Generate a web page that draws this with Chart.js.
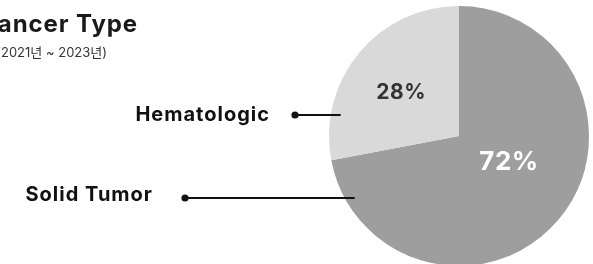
<!DOCTYPE html>
<html><head><meta charset="utf-8">
<script src="https://cdn.jsdelivr.net/npm/chart.js@4"></script>
<style>html,body{margin:0;padding:0;background:#fff;overflow:hidden;width:593px;height:264px}#wrap{position:relative;width:593px;height:272px}</style>
</head><body>
<div id="wrap"><canvas id="c" width="593" height="272"></canvas></div>
<script>
const categories = ["Solid Tumor", "Hematologic"];
const values = [72, 28];
const pctLabels = ["72%", "28%"];
const titleText = "Cancer Type";
const subtitleText = "(2021년 ~ 2023년)";
const colors = ["#9e9e9e", "#d9d9d9"];

const FONT = "Inter, 'Noto Sans', 'Noto Sans CJK KR', sans-serif";

const overlay = {
  id: 'overlay',
  afterDraw(chart) {
    const ctx = chart.ctx;
    const meta = chart.getDatasetMeta(0);
    ctx.save();
    // title
    ctx.fillStyle = '#1a1a1a';
    ctx.textAlign = 'right';
    ctx.textBaseline = 'alphabetic';
    ctx.letterSpacing = '0.9px';
    ctx.font = "bold 24px " + FONT;
    ctx.fillText(titleText, 138, 32);
    ctx.fillStyle = '#333';
    ctx.letterSpacing = '0px';
    ctx.font = "13px " + FONT;
    ctx.fillText(subtitleText, 107, 57);

    // percentage labels (positioned relative to the arc geometry)
    const cx0 = meta.data[0].x, cy0 = meta.data[0].y, R0 = meta.data[0].outerRadius;
    const offs = [[0.385, 0.20], [-0.445, -0.33]];
    meta.data.forEach((arc, i) => {
      const x = cx0 + offs[i][0] * R0;
      const y = cy0 + offs[i][1] * R0;
      ctx.textAlign = 'center';
      ctx.textBaseline = 'middle';
      ctx.letterSpacing = '0.5px';
      ctx.font = (i === 0 ? "bold 26px " : "bold 21px ") + FONT;
      ctx.fillStyle = i === 0 ? '#ffffff' : '#333333';
      ctx.fillText(pctLabels[i], x, y);
    });

    // category labels with leader lines
    const cx = cx0, cy = cy0, R = R0;
    const leaders = [
      {label: categories[1], ly: 115, base: 120.5, dot: 295, tx: 270},
      {label: categories[0], ly: 198, base: 200.5, dot: 185, tx: 153}
    ];
    leaders.forEach(l => {
      const dy = l.ly - cy;
      const edgeX = cx - Math.sqrt(R*R - dy*dy);
      const endX = edgeX + 10;
      ctx.strokeStyle = '#111';
      ctx.lineWidth = 2;
      ctx.beginPath();
      ctx.moveTo(l.dot, l.ly);
      ctx.lineTo(endX, l.ly);
      ctx.stroke();
      ctx.fillStyle = '#111';
      ctx.beginPath();
      ctx.arc(l.dot, l.ly, 3.6, 0, Math.PI*2);
      ctx.fill();
      ctx.textAlign = 'right';
      ctx.textBaseline = 'alphabetic';
      ctx.letterSpacing = '1px';
      ctx.font = "bold 20px " + FONT;
      ctx.fillText(l.label, l.tx, l.base);
    });
    ctx.restore();
  }
};

new Chart(document.getElementById('c'), {
  type: 'pie',
  data: {
    labels: categories,
    datasets: [{ data: values, backgroundColor: colors, borderWidth: 0 }]
  },
  options: {
    responsive: false,
    animation: false,
    layout: { padding: { top: 6, bottom: 6, left: 329, right: 4 } },
    plugins: { legend: { display: false }, tooltip: { enabled: false }, title: { display: false } }
  },
  plugins: [overlay]
});
</script>
</body></html>
